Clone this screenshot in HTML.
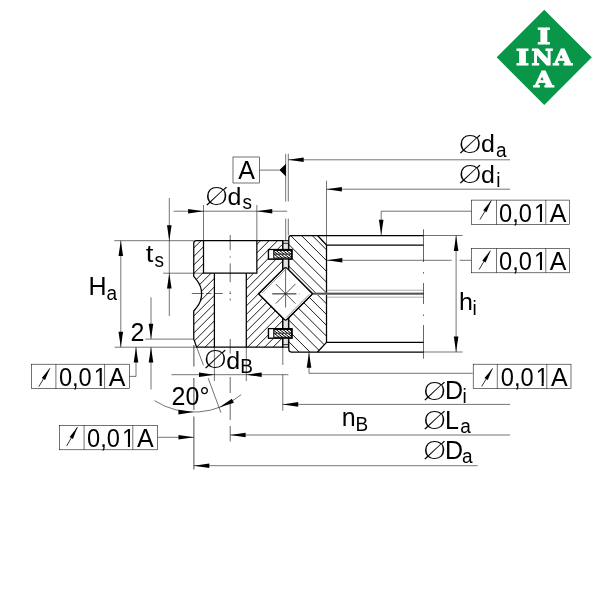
<!DOCTYPE html>
<html lang="en">
<head>
<meta charset="utf-8">
<title>INA crossed roller bearing – dimension drawing</title>
<style>
html,body{margin:0;padding:0;background:#fff;}
body{width:600px;height:600px;overflow:hidden;}
svg{display:block;will-change:transform;}
svg text{font-family:"Liberation Sans","DejaVu Sans",sans-serif;fill:#000;}
svg text.dia{font-family:"DejaVu Sans","Liberation Sans",sans-serif;font-weight:200;font-size:25.5px;}
#logo text{fill:#fff;font-family:"DejaVu Serif","Liberation Serif",serif;font-weight:bold;}
</style>
</head>
<body>
<svg width="600" height="600" viewBox="0 0 600 600">
<rect x="0" y="0" width="600" height="600" fill="#fff"/>
<defs>
<clipPath id="co"><path d="M 196.35,240.7 L 282.7,240.7 L 282.7,249.5 L 268.5,249.5 L 268.5,259.0 L 282.7,259.0 L 282.7,269.60 L 258.50,293.8 L 282.7,318.00 L 282.7,328.6 L 268.5,328.6 L 268.5,338.2 L 282.7,338.2 L 282.7,347.2 L 196.7,347.2 L 193.75,339.09999999999997 L 193.75,311.0 L 196.75,307.4 A 21.5 21.5 0 0 0 196.75,280.2 L 193.75,276.4 L 193.75,243.29999999999998 Q 193.75,240.7 196.35,240.7 Z"/></clipPath>
<clipPath id="ci"><path d="M 291.2,235.5 L 317.5,235.5 L 326.5,245.0 L 326.5,342.4 L 317.5,352.0 L 291.2,352.0 Q 288.8,352.0 288.8,349.6 L 288.8,338.2 L 291.9,338.2 L 291.9,328.6 L 288.8,328.6 L 288.8,317.70 L 312.70,293.8 L 288.8,269.90 L 288.8,259.0 L 291.9,259.0 L 291.9,249.5 L 288.8,249.5 L 288.8,237.9 Q 288.8,235.5 291.2,235.5 Z"/></clipPath>
<clipPath id="cs1"><rect x="273.8" y="250.5" width="18.099999999999966" height="7.5"/></clipPath>
<clipPath id="cs2"><rect x="273.8" y="329.6" width="18.099999999999966" height="7.599999999999966"/></clipPath>
</defs>
<g id="logo">
<polygon points="544.25,9.699999999999996 591.85,57.3 544.25,104.9 496.65,57.3" fill="#099648"/>
<text x="543.8" y="43.5" font-size="22.8" stroke="#fff" stroke-width="1.2" stroke-linejoin="miter" text-anchor="middle" lengthAdjust="spacingAndGlyphs" textLength="13.2">I</text>
<text x="522.6" y="64.9" font-size="22.8" stroke="#fff" stroke-width="1.2" stroke-linejoin="miter" text-anchor="middle" lengthAdjust="spacingAndGlyphs" textLength="13.0">I</text>
<text x="542.2" y="64.9" font-size="22.8" stroke="#fff" stroke-width="1.2" stroke-linejoin="miter" text-anchor="middle" lengthAdjust="spacingAndGlyphs" textLength="21.6">N</text>
<text x="562.8" y="64.9" font-size="22.8" stroke="#fff" stroke-width="1.2" stroke-linejoin="miter" text-anchor="middle" lengthAdjust="spacingAndGlyphs" textLength="18.6">A</text>
<text x="543.6" y="86.9" font-size="22.8" stroke="#fff" stroke-width="1.2" stroke-linejoin="miter" text-anchor="middle" lengthAdjust="spacingAndGlyphs" textLength="19.4">A</text>
</g>
<g id="bearing" fill="none">
<g clip-path="url(#co)" stroke="#000" stroke-width="0.9">
<line x1="24.75" y1="400" x2="224.75" y2="200"/>
<line x1="33.25" y1="400" x2="233.25" y2="200"/>
<line x1="41.75" y1="400" x2="241.75" y2="200"/>
<line x1="50.25" y1="400" x2="250.25" y2="200"/>
<line x1="58.75" y1="400" x2="258.75" y2="200"/>
<line x1="67.25" y1="400" x2="267.25" y2="200"/>
<line x1="75.75" y1="400" x2="275.75" y2="200"/>
<line x1="84.25" y1="400" x2="284.25" y2="200"/>
<line x1="92.75" y1="400" x2="292.75" y2="200"/>
<line x1="101.25" y1="400" x2="301.25" y2="200"/>
<line x1="109.75" y1="400" x2="309.75" y2="200"/>
<line x1="118.25" y1="400" x2="318.25" y2="200"/>
<line x1="126.75" y1="400" x2="326.75" y2="200"/>
<line x1="135.25" y1="400" x2="335.25" y2="200"/>
<line x1="143.75" y1="400" x2="343.75" y2="200"/>
<line x1="152.25" y1="400" x2="352.25" y2="200"/>
<line x1="160.75" y1="400" x2="360.75" y2="200"/>
<line x1="169.25" y1="400" x2="369.25" y2="200"/>
<line x1="177.75" y1="400" x2="377.75" y2="200"/>
<line x1="186.25" y1="400" x2="386.25" y2="200"/>
<line x1="194.75" y1="400" x2="394.75" y2="200"/>
<line x1="203.25" y1="400" x2="403.25" y2="200"/>
<line x1="211.75" y1="400" x2="411.75" y2="200"/>
<line x1="220.25" y1="400" x2="420.25" y2="200"/>
<line x1="228.75" y1="400" x2="428.75" y2="200"/>
<line x1="237.25" y1="400" x2="437.25" y2="200"/>
</g>
<path d="M 203.5,240.7 L 256.85,240.7 L 256.85,273.2 L 246.3,273.2 L 246.3,347.2 L 214.4,347.2 L 214.4,273.2 L 203.5,273.2 Z" fill="#fff" stroke="none"/>
<g clip-path="url(#ci)" stroke="#000" stroke-width="0.9">
<line x1="250" y1="151.70" x2="350" y2="251.70"/>
<line x1="250" y1="162.50" x2="350" y2="262.50"/>
<line x1="250" y1="173.30" x2="350" y2="273.30"/>
<line x1="250" y1="184.10" x2="350" y2="284.10"/>
<line x1="250" y1="194.90" x2="350" y2="294.90"/>
<line x1="250" y1="205.70" x2="350" y2="305.70"/>
<line x1="250" y1="216.50" x2="350" y2="316.50"/>
<line x1="250" y1="227.30" x2="350" y2="327.30"/>
<line x1="250" y1="238.10" x2="350" y2="338.10"/>
<line x1="250" y1="248.90" x2="350" y2="348.90"/>
<line x1="250" y1="259.70" x2="350" y2="359.70"/>
<line x1="250" y1="270.50" x2="350" y2="370.50"/>
<line x1="250" y1="281.30" x2="350" y2="381.30"/>
<line x1="250" y1="292.10" x2="350" y2="392.10"/>
<line x1="250" y1="302.90" x2="350" y2="402.90"/>
<line x1="250" y1="313.70" x2="350" y2="413.70"/>
<line x1="250" y1="324.50" x2="350" y2="424.50"/>
</g>
<rect x="282.7" y="240.7" width="5.800000000000023" height="106.5" fill="#e4e4e4" stroke="none"/>
<line x1="282.70" y1="240.70" x2="288.80" y2="240.70" stroke="#000" stroke-width="1.0" />
<line x1="282.70" y1="243.30" x2="288.80" y2="243.30" stroke="#000" stroke-width="0.8" />
<line x1="282.70" y1="347.20" x2="288.80" y2="347.20" stroke="#000" stroke-width="1.0" />
<line x1="282.70" y1="344.60" x2="288.80" y2="344.60" stroke="#000" stroke-width="0.8" />
<line x1="282.80" y1="240.70" x2="282.80" y2="347.20" stroke="#000" stroke-width="0.8" />
<line x1="288.40" y1="242.70" x2="288.40" y2="347.20" stroke="#000" stroke-width="0.8" />
<path d="M 196.35,240.7 L 282.7,240.7 L 282.7,249.5 L 268.5,249.5 L 268.5,259.0 L 282.7,259.0 L 282.7,269.60 L 258.50,293.8 L 282.7,318.00 L 282.7,328.6 L 268.5,328.6 L 268.5,338.2 L 282.7,338.2 L 282.7,347.2 L 196.7,347.2 L 193.75,339.09999999999997 L 193.75,311.0 L 196.75,307.4 A 21.5 21.5 0 0 0 196.75,280.2 L 193.75,276.4 L 193.75,243.29999999999998 Q 193.75,240.7 196.35,240.7 Z" stroke="#000" stroke-width="1.25" stroke-linejoin="round"/>
<path d="M 203.5,240.7 L 203.5,273.2 L 256.85,273.2 L 256.85,240.7" stroke="#000" stroke-width="1.25"/>
<path d="M 214.4,273.2 L 214.4,347.2 M 246.3,273.2 L 246.3,347.2" stroke="#000" stroke-width="1.25"/>
<path d="M 291.2,235.5 L 317.5,235.5 L 326.5,245.0 L 326.5,342.4 L 317.5,352.0 L 291.2,352.0 Q 288.8,352.0 288.8,349.6 L 288.8,338.2 L 291.9,338.2 L 291.9,328.6 L 288.8,328.6 L 288.8,317.70 L 312.70,293.8 L 288.8,269.90 L 288.8,259.0 L 291.9,259.0 L 291.9,249.5 L 288.8,249.5 L 288.8,237.9 Q 288.8,235.5 291.2,235.5 Z" stroke="#000" stroke-width="1.25" stroke-linejoin="round"/>
<line x1="317.50" y1="235.50" x2="423.50" y2="235.50" stroke="#000" stroke-width="1.25" />
<line x1="326.50" y1="245.00" x2="423.50" y2="245.00" stroke="#000" stroke-width="1.25" />
<line x1="326.50" y1="342.40" x2="423.50" y2="342.40" stroke="#000" stroke-width="1.25" />
<line x1="317.50" y1="352.00" x2="423.50" y2="352.00" stroke="#000" stroke-width="1.25" />
<line x1="312.50" y1="293.80" x2="423.50" y2="293.80" stroke="#8a8a8a" stroke-width="2.6" />
<line x1="312.50" y1="293.60" x2="423.50" y2="293.60" stroke="#333" stroke-width="0.7" />
<line x1="326.50" y1="290.20" x2="423.50" y2="290.20" stroke="#777" stroke-width="0.6" />
<line x1="326.50" y1="297.20" x2="423.50" y2="297.20" stroke="#777" stroke-width="0.6" />
<rect x="268.5" y="249.5" width="23.399999999999977" height="9.5" fill="#fff" stroke="#000" stroke-width="1.25"/>
<rect x="273.8" y="250.4" width="17.799999999999965" height="7.7" fill="#fff" stroke="#000" stroke-width="1.1"/>
<g clip-path="url(#cs1)" stroke="#000" stroke-width="1.0">
<line x1="268.00" y1="249.5" x2="280.35" y2="259.0"/>
<line x1="271.40" y1="249.5" x2="283.75" y2="259.0"/>
<line x1="274.80" y1="249.5" x2="287.15" y2="259.0"/>
<line x1="278.20" y1="249.5" x2="290.55" y2="259.0"/>
<line x1="281.60" y1="249.5" x2="293.95" y2="259.0"/>
<line x1="285.00" y1="249.5" x2="297.35" y2="259.0"/>
<line x1="288.40" y1="249.5" x2="300.75" y2="259.0"/>
<line x1="291.80" y1="249.5" x2="304.15" y2="259.0"/>
<line x1="295.20" y1="249.5" x2="307.55" y2="259.0"/>
<line x1="298.60" y1="249.5" x2="310.95" y2="259.0"/>
</g>
<line x1="273.80" y1="254.25" x2="291.90" y2="254.25" stroke="#000" stroke-width="1.3" />
<line x1="274.40" y1="254.25" x2="291.30" y2="254.25" stroke="#fff" stroke-width="0.35" />
<rect x="268.5" y="328.6" width="23.399999999999977" height="9.599999999999966" fill="#fff" stroke="#000" stroke-width="1.25"/>
<rect x="273.8" y="329.5" width="17.799999999999965" height="7.799999999999966" fill="#fff" stroke="#000" stroke-width="1.1"/>
<g clip-path="url(#cs2)" stroke="#000" stroke-width="1.0">
<line x1="268.00" y1="328.6" x2="280.48" y2="338.2"/>
<line x1="271.40" y1="328.6" x2="283.88" y2="338.2"/>
<line x1="274.80" y1="328.6" x2="287.28" y2="338.2"/>
<line x1="278.20" y1="328.6" x2="290.68" y2="338.2"/>
<line x1="281.60" y1="328.6" x2="294.08" y2="338.2"/>
<line x1="285.00" y1="328.6" x2="297.48" y2="338.2"/>
<line x1="288.40" y1="328.6" x2="300.88" y2="338.2"/>
<line x1="291.80" y1="328.6" x2="304.28" y2="338.2"/>
<line x1="295.20" y1="328.6" x2="307.68" y2="338.2"/>
<line x1="298.60" y1="328.6" x2="311.08" y2="338.2"/>
</g>
<line x1="273.80" y1="333.40" x2="291.90" y2="333.40" stroke="#000" stroke-width="1.3" />
<line x1="274.40" y1="333.40" x2="291.30" y2="333.40" stroke="#fff" stroke-width="0.35" />
<path d="M 284.40000000000003,268.1 Q 285.6,266.90000000000003 286.8,268.1 L 311.9,293.2 Q 312.5,293.8 311.9,294.40000000000003 L 286.8,319.5 Q 285.6,320.7 284.40000000000003,319.5 L 259.30000000000007,294.40000000000003 Q 258.70000000000005,293.8 259.30000000000007,293.2 Z" fill="#fff" stroke="#000" stroke-width="1.25" stroke-linejoin="round"/>
<line x1="261.90" y1="293.20" x2="285.00" y2="270.10" stroke="#333" stroke-width="0.5" />
<line x1="309.30" y1="294.40" x2="286.20" y2="317.50" stroke="#333" stroke-width="0.5" />
<line x1="272.20" y1="293.80" x2="296.40" y2="293.80" stroke="#666" stroke-width="1.5" />
<line x1="298.40" y1="293.80" x2="300.00" y2="293.80" stroke="#bbb" stroke-width="0.8" />
<line x1="275.80" y1="284.00" x2="295.40" y2="303.60" stroke="#000" stroke-width="0.7" />
<line x1="275.80" y1="303.60" x2="295.40" y2="284.00" stroke="#000" stroke-width="0.7" />
<line x1="285.60" y1="268.50" x2="285.60" y2="307.50" stroke="#222" stroke-width="0.7" />
</g>
<g id="centre" fill="none" stroke="#000">
<path d="M 230.2,235 V 250.2 M 230.2,256.4 V 257.7 M 230.2,263.4 V 282.2 M 230.2,291.4 V 292.8 M 230.2,298.5 V 300.5 M 230.2,339 V 353.5 M 230.2,377 V 393 M 230.2,401 V 420 M 230.2,426 V 441.5" stroke-width="0.6"/>
<path d="M 191.8,293.5 H 203.8 M 206.2,293.5 H 211.5 M 214,293.5 H 222.8 M 229.4,293.5 H 231" stroke-width="0.6"/>
<path d="M 423.5,229.3 V 262 M 423.5,272 V 273.6 M 423.5,283 V 304 M 423.5,314.5 V 316 M 423.5,325 V 358.7" stroke-width="0.6"/>
</g>
<g id="dims" fill="none">
<line x1="285.70" y1="153.80" x2="285.70" y2="201.50" stroke="#000" stroke-width="0.55" />
<line x1="288.30" y1="153.80" x2="288.30" y2="201.50" stroke="#000" stroke-width="0.55" />
<line x1="285.70" y1="218.60" x2="285.70" y2="240.70" stroke="#000" stroke-width="0.55" />
<line x1="288.30" y1="218.60" x2="288.30" y2="235.50" stroke="#000" stroke-width="0.55" />
<line x1="288.30" y1="159.80" x2="510.00" y2="159.80" stroke="#000" stroke-width="0.55" />
<polygon points="288.30,159.80 303.70,157.50 303.70,162.10" fill="#000"/>
<line x1="326.50" y1="180.70" x2="326.50" y2="245.00" stroke="#000" stroke-width="0.55" />
<line x1="326.50" y1="189.20" x2="510.00" y2="189.20" stroke="#000" stroke-width="0.55" />
<polygon points="326.50,189.20 341.90,186.90 341.90,191.50" fill="#000"/>
<rect x="233" y="157" width="26.6" height="26" fill="#fff" stroke="#000" stroke-width="0.55"/>
<line x1="259.60" y1="170.10" x2="279.50" y2="170.10" stroke="#000" stroke-width="0.55" />
<polygon points="279.4,170.1 286,163.8 286,176.4" fill="#000"/>
<line x1="203.50" y1="205.00" x2="203.50" y2="240.70" stroke="#000" stroke-width="0.55" />
<line x1="256.85" y1="205.00" x2="256.85" y2="240.70" stroke="#000" stroke-width="0.55" />
<line x1="173.60" y1="211.20" x2="287.20" y2="211.20" stroke="#000" stroke-width="0.55" />
<polygon points="203.50,211.20 188.10,213.50 188.10,208.90" fill="#000"/>
<polygon points="256.85,211.20 272.25,208.90 272.25,213.50" fill="#000"/>
<line x1="114.20" y1="240.70" x2="193.75" y2="240.70" stroke="#000" stroke-width="0.55" />
<line x1="163.20" y1="273.20" x2="203.50" y2="273.20" stroke="#000" stroke-width="0.55" />
<line x1="169.30" y1="198.00" x2="169.30" y2="316.00" stroke="#000" stroke-width="0.55" />
<polygon points="169.30,240.70 167.00,225.30 171.60,225.30" fill="#000"/>
<polygon points="169.30,273.20 171.60,288.60 167.00,288.60" fill="#000"/>
<line x1="114.60" y1="347.20" x2="196.75" y2="347.20" stroke="#000" stroke-width="0.55" />
<line x1="120.80" y1="240.70" x2="120.80" y2="347.20" stroke="#000" stroke-width="0.55" />
<polygon points="120.80,240.70 123.10,256.10 118.50,256.10" fill="#000"/>
<polygon points="120.80,347.20 118.50,331.80 123.10,331.80" fill="#000"/>
<line x1="145.30" y1="339.10" x2="193.75" y2="339.10" stroke="#000" stroke-width="0.55" />
<line x1="151.00" y1="297.30" x2="151.00" y2="339.10" stroke="#000" stroke-width="0.55" />
<polygon points="151.00,339.10 148.70,323.70 153.30,323.70" fill="#000"/>
<line x1="151.00" y1="347.20" x2="151.00" y2="389.50" stroke="#000" stroke-width="0.55" />
<polygon points="151.00,347.20 153.30,362.60 148.70,362.60" fill="#000"/>
<path d="M 129.5,376.4 H 136 V 347.2" stroke="#000" stroke-width="0.55"/>
<polygon points="136.00,347.20 138.30,362.60 133.70,362.60" fill="#000"/>
<line x1="157.90" y1="437.30" x2="193.90" y2="437.30" stroke="#000" stroke-width="0.55" />
<polygon points="193.90,437.30 178.50,439.60 178.50,435.00" fill="#000"/>
<path d="M 193.9,345 V 366.5 M 193.9,378 V 410 M 193.9,416.5 V 469.5" stroke="#000" stroke-width="0.7"/>
<line x1="214.40" y1="347.20" x2="214.40" y2="381.00" stroke="#000" stroke-width="0.55" />
<line x1="246.30" y1="347.20" x2="246.30" y2="381.00" stroke="#000" stroke-width="0.55" />
<line x1="171.50" y1="374.70" x2="288.40" y2="374.70" stroke="#000" stroke-width="0.55" />
<polygon points="214.40,374.70 199.00,377.00 199.00,372.40" fill="#000"/>
<polygon points="246.30,374.70 261.70,372.40 261.70,377.00" fill="#000"/>
<path d="M 154.53,400.67 A 73.0 73.0 0 0 0 241.16,394.61" stroke="#000" stroke-width="0.55"/>
<line x1="196.70" y1="347.20" x2="203.46" y2="365.36" stroke="#000" stroke-width="0.55" />
<line x1="208.15" y1="378.02" x2="220.98" y2="412.72" stroke="#000" stroke-width="0.55" />
<polygon points="193.75,412.10 178.35,414.40 178.35,409.80" fill="#000"/>
<polygon points="219.08,407.57 231.86,398.68 233.90,402.80" fill="#000"/>
<path d="M 282.8,347.2 V 365 M 282.8,374.7 V 410.8" stroke="#000" stroke-width="0.55"/>
<line x1="282.70" y1="404.40" x2="510.00" y2="404.40" stroke="#000" stroke-width="0.55" />
<polygon points="282.80,404.40 298.20,402.10 298.20,406.70" fill="#000"/>
<line x1="230.20" y1="435.00" x2="510.00" y2="435.00" stroke="#000" stroke-width="0.55" />
<polygon points="230.20,435.00 245.60,432.70 245.60,437.30" fill="#000"/>
<line x1="193.90" y1="465.70" x2="477.70" y2="465.70" stroke="#000" stroke-width="0.55" />
<polygon points="193.90,465.70 209.30,463.40 209.30,468.00" fill="#000"/>
<path d="M 309,352.0 V 373.3 H 472.7" stroke="#000" stroke-width="0.55"/>
<polygon points="309.00,352.40 311.30,367.80 306.70,367.80" fill="#000"/>
<path d="M 381.2,235.5 V 211.2 H 471.5" stroke="#000" stroke-width="0.55"/>
<polygon points="381.20,235.10 378.90,219.70 383.50,219.70" fill="#000"/>
<line x1="326.50" y1="260.30" x2="451.60" y2="260.30" stroke="#000" stroke-width="0.55" />
<line x1="459.60" y1="260.30" x2="471.50" y2="260.30" stroke="#000" stroke-width="0.55" />
<polygon points="326.90,260.30 342.30,258.00 342.30,262.60" fill="#000"/>
<line x1="423.50" y1="235.50" x2="462.60" y2="235.50" stroke="#000" stroke-width="0.55" />
<line x1="423.50" y1="352.00" x2="462.60" y2="352.00" stroke="#000" stroke-width="0.55" />
<line x1="456.10" y1="235.50" x2="456.10" y2="352.00" stroke="#000" stroke-width="0.55" />
<polygon points="456.10,235.50 458.40,250.90 453.80,250.90" fill="#000"/>
<polygon points="456.10,352.00 453.80,336.60 458.40,336.60" fill="#000"/>
</g>
<g id="labels" fill="#000">
<rect x="31.30" y="364.20" width="98.2" height="24.5" fill="#fff" stroke="none"/>
<line x1="38.80" y1="386.60" x2="49.90" y2="368.30" stroke="#000" stroke-width="0.8" />
<polygon points="49.90,368.30 45.04,379.97 41.79,378.00" fill="#000"/>
<text x="58.90" y="385.60" font-size="25" text-anchor="start" textLength="32.86" lengthAdjust="spacingAndGlyphs">0,0</text>
<text transform="translate(93.76 385.60) scale(0.9455 1)" font-size="25">1</text>
<rect x="94.76" y="383.30" width="4.94" height="2.8" fill="#fff"/>
<rect x="101.76" y="383.30" width="4.8" height="2.8" fill="#fff"/>
<text x="108.70" y="385.60" font-size="25" text-anchor="start" >A</text>
<line x1="55.90" y1="364.20" x2="55.90" y2="388.70" stroke="#000" stroke-width="0.55" />
<line x1="104.60" y1="364.20" x2="104.60" y2="388.70" stroke="#000" stroke-width="0.55" />
<rect x="31.30" y="364.20" width="98.2" height="24.5" fill="none" stroke="#000" stroke-width="0.55"/>
<rect x="59.50" y="425.30" width="98.2" height="24.5" fill="#fff" stroke="none"/>
<line x1="66.70" y1="445.90" x2="77.50" y2="427.10" stroke="#000" stroke-width="0.8" />
<polygon points="77.50,427.10 72.92,438.89 69.63,436.99" fill="#000"/>
<text x="87.10" y="446.70" font-size="25" text-anchor="start" textLength="32.86" lengthAdjust="spacingAndGlyphs">0,0</text>
<text transform="translate(121.96 446.70) scale(0.9455 1)" font-size="25">1</text>
<rect x="122.96" y="444.40" width="4.94" height="2.8" fill="#fff"/>
<rect x="129.96" y="444.40" width="4.8" height="2.8" fill="#fff"/>
<text x="136.90" y="446.70" font-size="25" text-anchor="start" >A</text>
<line x1="84.10" y1="425.30" x2="84.10" y2="449.80" stroke="#000" stroke-width="0.55" />
<line x1="132.80" y1="425.30" x2="132.80" y2="449.80" stroke="#000" stroke-width="0.55" />
<rect x="59.50" y="425.30" width="98.2" height="24.5" fill="none" stroke="#000" stroke-width="0.55"/>
<rect x="471.50" y="200.10" width="98.2" height="24.5" fill="#fff" stroke="none"/>
<line x1="480.00" y1="219.50" x2="491.30" y2="200.60" stroke="#000" stroke-width="0.8" />
<polygon points="491.30,200.60 486.52,212.30 483.25,210.35" fill="#000"/>
<text x="499.10" y="221.50" font-size="25" text-anchor="start" textLength="32.86" lengthAdjust="spacingAndGlyphs">0,0</text>
<text transform="translate(533.96 221.50) scale(0.9455 1)" font-size="25">1</text>
<rect x="534.96" y="219.20" width="4.94" height="2.8" fill="#fff"/>
<rect x="541.96" y="219.20" width="4.8" height="2.8" fill="#fff"/>
<text x="549.70" y="221.50" font-size="25" text-anchor="start" >A</text>
<line x1="496.50" y1="200.10" x2="496.50" y2="224.60" stroke="#000" stroke-width="0.55" />
<line x1="545.80" y1="200.10" x2="545.80" y2="224.60" stroke="#000" stroke-width="0.55" />
<rect x="471.50" y="200.10" width="98.2" height="24.5" fill="none" stroke="#000" stroke-width="0.55"/>
<rect x="471.50" y="248.30" width="98.2" height="24.5" fill="#fff" stroke="none"/>
<line x1="479.10" y1="269.50" x2="490.40" y2="250.70" stroke="#000" stroke-width="0.8" />
<polygon points="490.40,250.70 485.59,262.39 482.33,260.43" fill="#000"/>
<text x="499.10" y="269.70" font-size="25" text-anchor="start" textLength="32.86" lengthAdjust="spacingAndGlyphs">0,0</text>
<text transform="translate(533.96 269.70) scale(0.9455 1)" font-size="25">1</text>
<rect x="534.96" y="267.40" width="4.94" height="2.8" fill="#fff"/>
<rect x="541.96" y="267.40" width="4.8" height="2.8" fill="#fff"/>
<text x="549.70" y="269.70" font-size="25" text-anchor="start" >A</text>
<line x1="496.50" y1="248.30" x2="496.50" y2="272.80" stroke="#000" stroke-width="0.55" />
<line x1="545.80" y1="248.30" x2="545.80" y2="272.80" stroke="#000" stroke-width="0.55" />
<rect x="471.50" y="248.30" width="98.2" height="24.5" fill="none" stroke="#000" stroke-width="0.55"/>
<rect x="473.20" y="364.20" width="97.8" height="24.5" fill="#fff" stroke="none"/>
<line x1="481.70" y1="386.40" x2="492.60" y2="368.40" stroke="#000" stroke-width="0.8" />
<polygon points="492.60,368.40 487.75,380.08 484.50,378.11" fill="#000"/>
<text x="500.80" y="385.60" font-size="25" text-anchor="start" textLength="32.86" lengthAdjust="spacingAndGlyphs">0,0</text>
<text transform="translate(535.66 385.60) scale(0.9455 1)" font-size="25">1</text>
<rect x="536.66" y="383.30" width="4.94" height="2.8" fill="#fff"/>
<rect x="543.66" y="383.30" width="4.8" height="2.8" fill="#fff"/>
<text x="551.00" y="385.60" font-size="25" text-anchor="start" >A</text>
<line x1="497.30" y1="364.20" x2="497.30" y2="388.70" stroke="#000" stroke-width="0.55" />
<line x1="546.80" y1="364.20" x2="546.80" y2="388.70" stroke="#000" stroke-width="0.55" />
<rect x="473.20" y="364.20" width="97.8" height="24.5" fill="none" stroke="#000" stroke-width="0.55"/>
<text x="246.50" y="178.60" font-size="25" text-anchor="middle" >A</text>
<text transform="translate(458.10 152.60) scale(1.21 1)" class="dia">Ø</text>
<text transform="translate(481.00 152.20) scale(1.0 0.95)" font-size="25">d</text>
<text transform="translate(496.00 156.60) scale(0.96 1)" font-size="19.8">a</text>
<text transform="translate(458.10 183.30) scale(1.21 1)" class="dia">Ø</text>
<text transform="translate(481.00 182.90) scale(1.0 0.95)" font-size="25">d</text>
<text transform="translate(496.20 187.00) scale(0.96 1)" font-size="19.8">i</text>
<text transform="translate(204.60 205.30) scale(1.21 1)" class="dia">Ø</text>
<text transform="translate(227.50 204.90) scale(1.0 0.95)" font-size="25">d</text>
<text transform="translate(242.60 209.00) scale(0.96 1)" font-size="19.8">s</text>
<text transform="translate(203.20 368.40) scale(1.21 1)" class="dia">Ø</text>
<text transform="translate(226.30 368.50) scale(1.0 0.95)" font-size="25">d</text>
<text transform="translate(240.20 372.80) scale(0.96 1)" font-size="19.8">B</text>
<text transform="translate(422.50 399.70) scale(1.21 1)" class="dia">Ø</text>
<text transform="translate(445.00 399.30) scale(1.0 1.0)" font-size="25">D</text>
<text transform="translate(462.60 403.00) scale(0.96 1)" font-size="19.8">i</text>
<text transform="translate(422.50 429.00) scale(1.21 1)" class="dia">Ø</text>
<text transform="translate(445.00 428.60) scale(1.0 1.0)" font-size="25">L</text>
<text transform="translate(460.20 433.00) scale(0.96 1)" font-size="19.8">a</text>
<text transform="translate(422.50 459.30) scale(1.21 1)" class="dia">Ø</text>
<text transform="translate(445.00 458.90) scale(1.0 1.0)" font-size="25">D</text>
<text transform="translate(462.00 463.30) scale(0.96 1)" font-size="19.8">a</text>
<text transform="translate(145.80 261.60) scale(1.1 0.95)" font-size="25">t</text>
<text transform="translate(154.40 267.20) scale(0.96 1)" font-size="19.8">s</text>
<text transform="translate(88.40 295.00) scale(1.0 1.0)" font-size="25">H</text>
<text transform="translate(106.60 300.00) scale(0.96 1)" font-size="19.8">a</text>
<text transform="translate(341.80 426.00) scale(1.0 1.0)" font-size="25">n</text>
<text transform="translate(355.60 430.80) scale(0.96 1)" font-size="19.8">B</text>
<text transform="translate(459.00 310.20) scale(1.0 0.95)" font-size="25">h</text>
<text transform="translate(472.60 315.00) scale(0.96 1)" font-size="19.8">i</text>
<text x="130.40" y="340.60" font-size="25" text-anchor="start" >2</text>
<text x="171.60" y="404.70" font-size="25" text-anchor="start" >20°</text>
</g>
</svg>
</body>
</html>
